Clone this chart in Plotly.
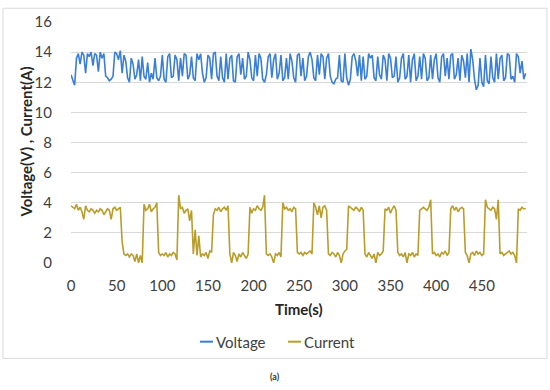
import plotly.graph_objects as go

# ---- data (sampled every 2 s) ----
time_s = list(range(0, 500, 2))

voltage = [
    12.5, 12.2, 11.8, 13.6, 13.9, 13.2, 14.0, 13.8, 12.6, 13.9,
    13.7, 14.0, 13.1, 13.9, 13.8, 12.7, 14.0, 13.6, 13.9, 12.4,
    12.3, 12.1, 12.2, 12.4, 14.0, 13.9, 13.5, 14.1, 12.6, 13.8,
    13.4, 12.3, 12.0, 13.6, 13.2, 12.2, 12.5, 13.5, 12.1, 13.7,
    12.4, 12.2, 13.3, 12.0, 12.6, 12.2, 13.6, 12.3, 12.1, 12.4,
    13.8, 12.2, 12.0, 13.7, 13.9, 12.3, 12.4, 13.8, 13.5, 12.1,
    13.6, 12.4, 13.9, 13.8, 12.2, 12.5, 13.7, 12.3, 12.1, 13.9,
    13.5, 13.9, 12.6, 12.0, 12.3, 13.8, 13.6, 12.2, 13.9, 14.0,
    12.4, 12.1, 13.7, 12.3, 12.0, 13.9, 12.2, 13.6, 13.8, 12.1,
    12.0, 13.7, 13.9, 12.5, 13.6, 12.2, 12.4, 14.0, 13.5, 12.3,
    12.1, 13.8, 12.4, 13.9, 13.6, 12.2, 12.0, 12.5, 13.7, 13.9,
    12.3, 13.5, 13.9, 12.2, 12.6, 13.8, 12.1, 12.3, 13.6, 12.2,
    13.9, 13.4, 12.3, 12.0, 13.8, 13.9, 12.4, 13.6, 12.1, 12.4,
    13.7, 14.0, 13.5, 12.3, 12.1, 13.8, 12.5, 13.9, 13.7, 12.2,
    13.6, 13.9, 12.4, 12.0, 11.9, 12.2, 12.3, 13.8, 12.1, 12.0,
    13.9, 12.3, 11.8, 12.2, 13.7, 13.9, 13.4, 12.4, 13.8, 12.1,
    13.7, 12.2, 12.4, 13.9, 13.6, 13.8, 12.3, 12.1, 13.7, 12.5,
    12.2, 13.8, 13.5, 12.1, 13.9, 13.6, 12.3, 12.4, 13.7, 12.0,
    12.3, 13.6, 13.9, 12.2, 12.4, 13.8, 12.0, 13.5, 13.9, 12.1,
    12.4, 13.7, 12.2, 13.9, 13.6, 12.1, 12.3, 13.8, 12.2, 13.5,
    13.9, 12.3, 12.0, 13.7, 13.9, 12.4, 13.6, 12.2, 13.8, 13.9,
    12.2, 12.5, 13.6, 12.1, 13.8, 13.4, 12.3, 13.9, 12.0, 14.2,
    13.5, 12.2, 11.5, 11.8, 13.6, 12.0, 11.7, 13.8, 12.1, 11.9,
    13.7, 12.3, 12.0, 13.9, 12.2, 13.6, 13.8, 12.1, 12.3, 13.9,
    13.8, 12.2, 12.4, 12.0, 13.9, 13.7, 12.6, 13.4, 12.2, 12.6,
]

current = [
    # 0-54
    3.8, 3.7, 3.6, 3.9, 3.5, 3.7, 3.4, 2.9, 3.8, 3.5, 3.4, 3.6, 3.5, 3.3,
    3.5, 3.4, 3.6, 3.5, 3.2, 3.4, 3.6, 3.5, 2.9, 3.6, 3.7, 3.5, 3.6, 3.7,
    # 56-78
    1.4, 0.6, 0.5, 0.6, 0.4, 0.6, 0.5, 0.1, 0.6, 0.0, 0.5, 0.0,
    # 80-94
    3.9, 3.5, 3.6, 3.9, 3.4, 3.6, 3.7, 4.0,
    # 96-116
    0.7, 0.5, 0.6, 0.5, 0.7, 0.4, 0.6, 0.5, 0.7, 0.6, 0.2,
    # 118-132
    4.5, 3.6, 3.7, 3.3, 3.5, 3.6, 2.8, 3.5,
    # 134-154
    0.6, 2.2, 0.5, 1.8, 0.4, 0.6, 0.5, 0.7, 0.3, 0.8, 0.7,
    # 156-172
    3.2, 3.6, 3.5, 3.7, 3.4, 3.6, 3.7, 3.5, 3.8,
    # 174-194
    0.6, 0.0, 0.7, 0.5, 0.1, 0.6, 0.4, 0.7, 0.5, 0.3, 0.6,
    # 196-212
    3.7, 3.3, 3.6, 3.5, 3.8, 3.6, 3.5, 3.7, 4.5,
    # 214-230
    0.6, 0.5, 0.6, 0.4, 0.0, 0.6, 0.5, 0.7, 0.4,
    # 232-246
    4.0, 3.6, 3.7, 3.5, 3.6, 3.4, 3.7, 3.6,
    # 248-264
    0.7, 0.6, 0.7, 0.5, 0.7, 0.6, 0.7, 0.8, 0.6,
    # 266-280
    4.0, 3.7, 3.2, 3.8, 3.0, 3.7, 3.8, 3.5,
    # 282-302
    0.6, 0.5, 0.7, 0.6, 0.4, 0.7, 0.5, 0.0, 0.6, 0.8, 0.9,
    # 304-320
    3.8, 3.7, 3.6, 3.5, 3.7, 3.6, 3.4, 3.7, 3.5,
    # 322-342
    0.6, 0.4, 0.7, 0.5, 0.3, 0.6, 0.0, 0.7, 0.5, 0.6, 0.8,
    # 344-356
    3.6, 3.5, 3.7, 3.3, 3.6, 3.8, 3.5,
    # 358-380
    0.7, 0.5, 0.6, 0.4, 0.7, 0.0, 0.6, 0.5, 0.7, 0.4, 0.6, 0.5,
    # 382-394
    3.5, 3.6, 3.7, 3.6, 3.5, 3.7, 4.2,
    # 396-414
    0.6, 0.7, 0.5, 0.6, 0.4, 0.7, 0.6, 0.8, 0.5, 0.7,
    # 416-430
    3.6, 3.8, 3.5, 3.7, 3.4, 3.6, 3.7, 3.6,
    # 432-452
    0.7, 0.5, 0.0, 0.6, 0.7, 0.5, 0.8, 0.6, 0.7, 0.5, 0.6,
    # 454-468
    4.2, 3.7, 3.6, 3.5, 3.7, 3.6, 2.9, 4.2,
    # 470-488
    0.6, 0.7, 0.5, 0.6, 0.7, 0.8, 0.6, 0.7, 0.5, 0.0,
    # 490-498
    3.6, 3.5, 3.7, 3.6, 3.6,
]

series_names = ["Voltage", "Current"]
x_ticks = [0, 50, 100, 150, 200, 250, 300, 350, 400, 450]
y_ticks = [0, 2, 4, 6, 8, 10, 12, 14, 16]

V_COLOR = "#3a7fd5"
I_COLOR = "#b99d2b"
FONT = "Lato, 'Open Sans', sans-serif"

fig = go.Figure()
fig.add_trace(go.Scatter(x=time_s, y=voltage, mode="lines", name=series_names[0],
                         line=dict(color=V_COLOR, width=1.6)))
fig.add_trace(go.Scatter(x=time_s, y=current, mode="lines", name=series_names[1],
                         line=dict(color=I_COLOR, width=1.6)))

# plot area: x 71..527, y 18..263 (px)
W, H = 550, 390
L, R, T, B = 71, 527, 18, 263
pw, ph = R - L, B - T

def px(xp):
    return (xp - L) / pw

def py(yp):
    return (B - yp) / ph

fig.update_layout(
    width=W, height=H,
    margin=dict(l=L, r=W - R, t=T, b=H - B),
    paper_bgcolor="white", plot_bgcolor="white",
    showlegend=False,
    font=dict(family=FONT, size=15, color="#404040"),
    xaxis=dict(range=[0, 499.5], tickvals=x_ticks, showgrid=False, zeroline=False,
               showline=False, ticks="", ticklabelstandoff=12,
               tickfont=dict(size=15, color="#404040")),
    yaxis=dict(range=[0, 16], tickvals=y_ticks, showgrid=True, gridcolor="#d9d9d9",
               gridwidth=1, zeroline=False, showline=False, ticks="",
               ticklabelstandoff=18, tickfont=dict(size=15, color="#404040")),
)

def ann(text, x, y, size=15, color="#404040", **kw):
    d = dict(text=text, x=x, y=y, xref="paper", yref="paper", showarrow=False,
             xanchor="center", yanchor="middle", font=dict(size=size, color=color))
    d.update(kw)
    return d

annotations = [
    ann("<b>Voltage(V) , Current(A)</b>", px(25), 0.5, color="#262626", textangle=-90),
    ann("<b>Time(s)</b>", 0.5, py(310), color="#262626"),
    ann(series_names[0], px(214), py(343), xanchor="left"),
    ann(series_names[1], px(302), py(343), xanchor="left"),
    ann("<b>(a)</b>", px(275), py(378), size=9, color="#333333"),
]
fig.update_layout(annotations=annotations)

shapes = [
    dict(type="rect", xref="paper", yref="paper", x0=px(3), x1=px(547), y0=py(360), y1=py(4),
         line=dict(color="#d9d9d9", width=1), fillcolor="rgba(0,0,0,0)", layer="below"),
    dict(type="line", xref="paper", yref="paper", x0=px(200), x1=px(213), y0=py(343), y1=py(343),
         line=dict(color=V_COLOR, width=2)),
    dict(type="line", xref="paper", yref="paper", x0=px(288), x1=px(301), y0=py(343), y1=py(343),
         line=dict(color=I_COLOR, width=2)),
]
fig.update_layout(shapes=shapes)

fig.write_html("out.html", config={"displayModeBar": False},
               post_script="document.body.style.margin='0';")
